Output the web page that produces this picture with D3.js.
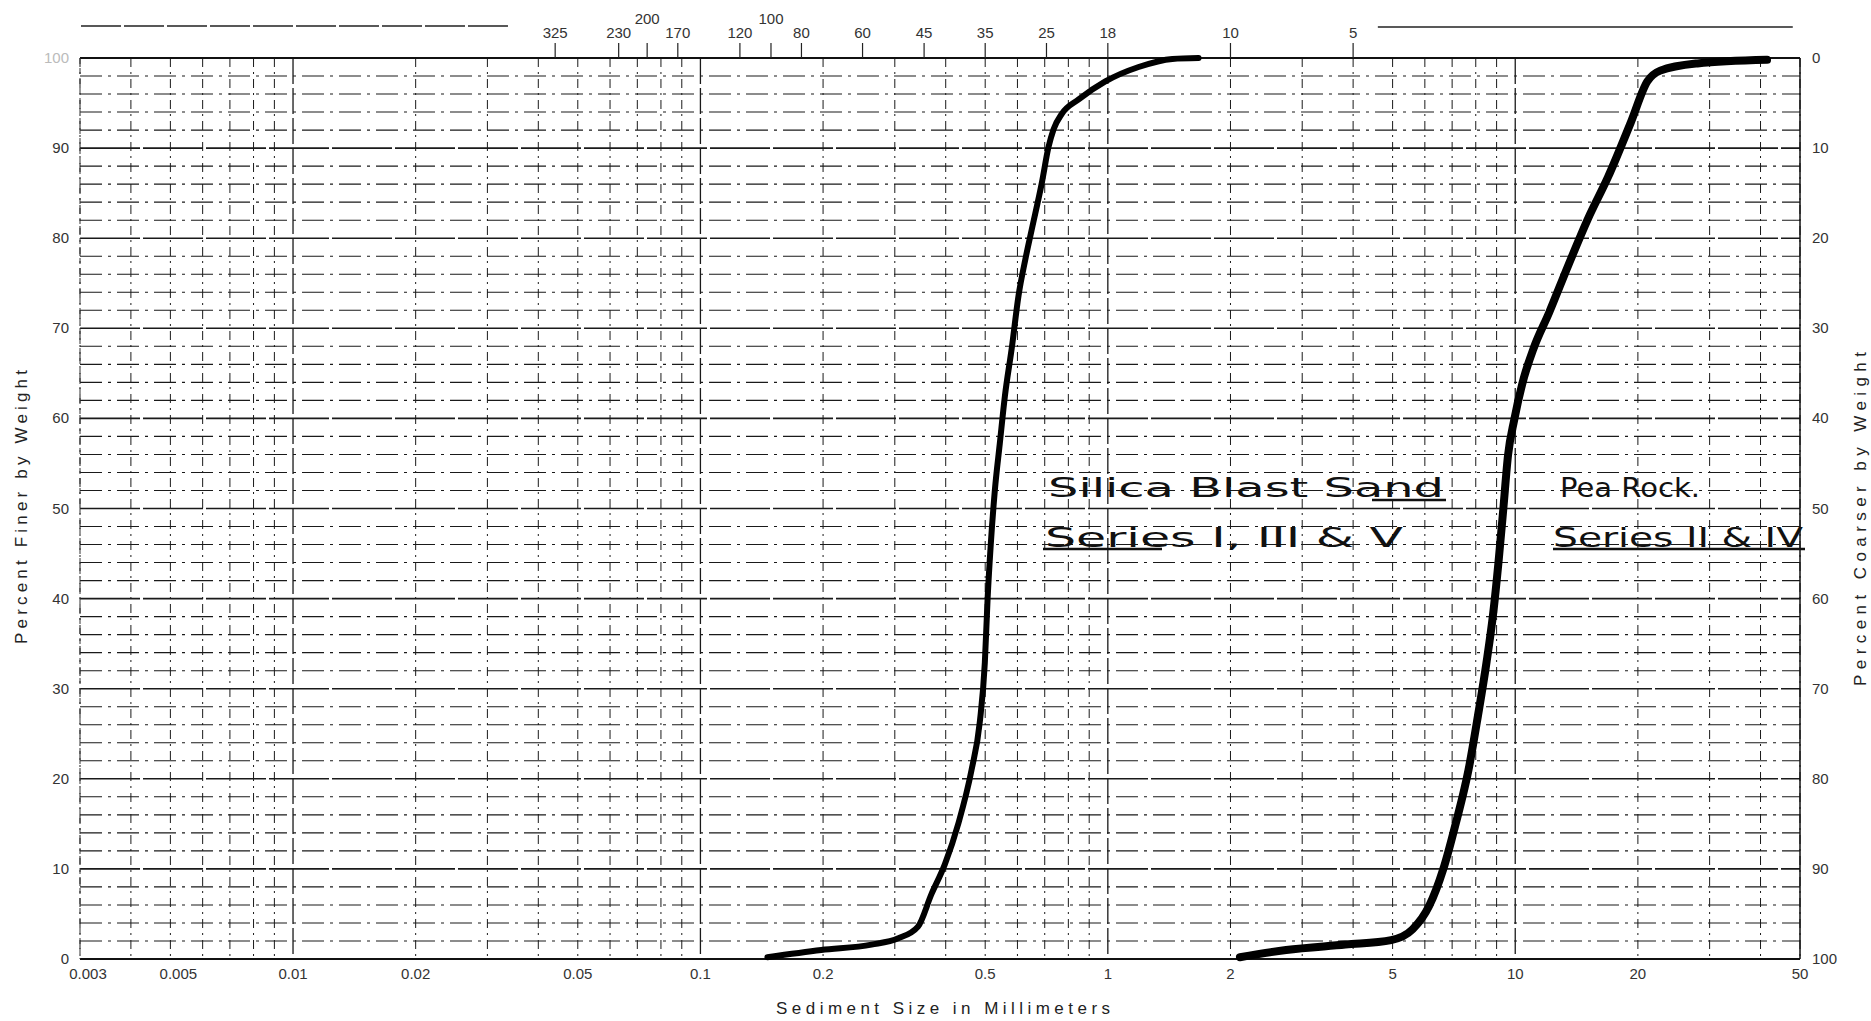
<!DOCTYPE html>
<html>
<head>
<meta charset="utf-8">
<script src="https://cdn.jsdelivr.net/npm/d3@7"></script>
<style>
  body { margin: 0; background: #fff; }
  svg { display: block; font-family: 'Liberation Sans', Arial, sans-serif; }
  .tick-label { font-size: 15px; fill: #333; }
  .axis-label { font-size: 17px; fill: #222; }
  .note { font-family: 'DejaVu Sans', sans-serif; font-size: 27px; fill: #111; }
</style>
</head>
<body>
<div class="chart"></div>
<script>
// Grain size curves (size in mm, percent finer)
const silicaSize = [0.146, 0.198, 0.263, 0.306, 0.342, 0.369, 0.398, 0.430, 0.463, 0.485, 0.499, 0.507, 0.516, 0.528, 0.543, 0.559, 0.581, 0.604, 0.627, 0.650, 0.689, 0.715, 0.736, 0.771, 0.848, 0.986, 1.19, 1.44, 1.67];
const silicaPct = [0.2, 1.0, 1.6, 2.3, 3.6, 7.2, 10.5, 15.1, 21, 26.3, 32.9, 40.1, 46, 52, 57.2, 62.5, 67.8, 73.7, 77.6, 80.9, 86.2, 90.1, 92.1, 93.8, 95.4, 97.4, 99.0, 99.9, 100];

const peaSize = [2.11, 2.74, 3.83, 4.96, 5.6, 6.15, 6.65, 7.15, 7.68, 8.1, 8.5, 8.82, 9.1, 9.35, 9.6, 9.95, 10.4, 11.1, 12.1, 13.5, 15.1, 16.9, 19.2, 21.1, 22.7, 28, 41.5];
const peaPct = [0.2, 1.0, 1.6, 2.1, 3.3, 5.9, 9.9, 15.1, 21, 27, 32.9, 38.2, 44.1, 50, 55.9, 59.9, 63.8, 67.8, 71.7, 77, 82.2, 86.8, 92.8, 97.4, 98.6, 99.4, 99.8];

// Axis ticks
const sizeTicks = [0.003, 0.005, 0.01, 0.02, 0.05, 0.1, 0.2, 0.5, 1, 2, 5, 10, 20, 50];
const sizeTickLabels = ['0.003', '0.005', '0.01', '0.02', '0.05', '0.1', '0.2', '0.5', '1', '2', '5', '10', '20', '50'];
const pctTicks = [0, 10, 20, 30, 40, 50, 60, 70, 80, 90, 100];

// Sieve numbers on the top scale and their openings (mm)
const sieveNumbers = ['325', '230', '200', '170', '120', '100', '80', '60', '45', '35', '25', '18', '10', '5'];
const sieveOpenings = [0.044, 0.063, 0.074, 0.088, 0.125, 0.149, 0.177, 0.25, 0.354, 0.5, 0.707, 1.0, 2.0, 4.0];
const sieveRaised = ['200', '100'];

const W = 1871, H = 1021;
const margin = { top: 58, right: 71, bottom: 62, left: 80 };
const width = W - margin.left - margin.right;
const height = H - margin.top - margin.bottom;

const svg = d3.select('.chart')
  .append('svg')
  .attr('width', W)
  .attr('height', H);

svg.append('rect').attr('width', W).attr('height', H).attr('fill', '#fff');

const g = svg.append('g')
  .attr('transform', `translate(${margin.left},${margin.top})`);

// Scales
const x = d3.scaleLog().domain([0.003, 50]).range([0, width]);
const y = d3.scaleLinear().domain([0, 100]).range([height, 0]);

// Log grid (1..9 per decade)
const vTicks = x.ticks();
const isDecade = v => Math.abs(Math.log10(v) - Math.round(Math.log10(v))) < 1e-6;

g.append('g').attr('class', 'vgrid')
  .selectAll('line')
  .data(vTicks)
  .enter()
  .append('line')
  .attr('x1', d => x(d)).attr('x2', d => x(d))
  .attr('y1', 0).attr('y2', height)
  .attr('stroke', '#1a1a1a')
  .attr('stroke-width', d => isDecade(d) ? 1.3 : 1)
  .attr('stroke-dasharray', d => isDecade(d) ? '26,4' : '9,5,2,5');

// Horizontal grid every 2 percent
const hTicks = y.ticks(50);
g.append('g').attr('class', 'hgrid')
  .selectAll('line')
  .data(hTicks)
  .enter()
  .append('line')
  .attr('x1', 0).attr('x2', width)
  .attr('y1', d => y(d)).attr('y2', d => y(d))
  .attr('stroke', '#1a1a1a')
  .attr('stroke-width', d => d % 10 === 0 ? 1.6 : 1.1)
  .attr('stroke-dasharray', d => d % 10 === 0 ? '60,3' : '22,6,3,6');

// Frame
g.append('line').attr('x1', 0).attr('x2', width).attr('y1', 0).attr('y2', 0)
  .attr('stroke', '#111').attr('stroke-width', 2);
g.append('line').attr('x1', 0).attr('x2', width).attr('y1', height).attr('y2', height)
  .attr('stroke', '#111').attr('stroke-width', 2);
g.append('line').attr('x1', width).attr('x2', width).attr('y1', 0).attr('y2', height)
  .attr('stroke', '#111').attr('stroke-width', 1.5);
g.append('line').attr('x1', 0).attr('x2', 0).attr('y1', 0).attr('y2', height)
  .attr('stroke', '#333').attr('stroke-width', 1).attr('stroke-dasharray', '6,4');

// Bottom size labels
g.append('g')
  .selectAll('text')
  .data(sizeTicks)
  .enter()
  .append('text')
  .attr('class', 'tick-label')
  .attr('x', (d, i) => x(d) + (i < 2 ? 8 : 0))
  .attr('y', height + 20)
  .attr('text-anchor', 'middle')
  .text((d, i) => sizeTickLabels[i]);

// Left percent finer labels
g.append('g')
  .selectAll('text')
  .data(pctTicks)
  .enter()
  .append('text')
  .attr('class', 'tick-label')
  .attr('x', -11)
  .attr('y', d => y(d) + 5)
  .attr('text-anchor', 'end')
  .style('fill', d => d === 100 ? '#bbb' : '#333')
  .text(d => d);

// Right percent coarser labels
g.append('g')
  .selectAll('text')
  .data(pctTicks)
  .enter()
  .append('text')
  .attr('class', 'tick-label')
  .attr('x', width + 12)
  .attr('y', d => y(100 - d) + 5)
  .attr('text-anchor', 'start')
  .text(d => d);

// Top sieve scale
const sieve = sieveNumbers.map((n, i) => ({ n: n, size: sieveOpenings[i] }));
g.append('g')
  .selectAll('line')
  .data(sieve)
  .enter()
  .append('line')
  .attr('x1', d => x(d.size)).attr('x2', d => x(d.size))
  .attr('y1', 0).attr('y2', -15)
  .attr('stroke', '#222').attr('stroke-width', 1.2);

g.append('g')
  .selectAll('text')
  .data(sieve)
  .enter()
  .append('text')
  .attr('class', 'tick-label')
  .attr('x', d => x(d.size))
  .attr('y', d => sieveRaised.includes(d.n) ? -34 : -20)
  .attr('text-anchor', 'middle')
  .text(d => d.n);

// Rules flanking the sieve scale
g.append('line')
  .attr('x1', x(0.003) + 1).attr('x2', x(0.0337))
  .attr('y1', -32).attr('y2', -32)
  .attr('stroke', '#222').attr('stroke-width', 1.5).attr('stroke-dasharray', '40,3');
g.append('line')
  .attr('x1', x(4.6)).attr('x2', x(48))
  .attr('y1', -31).attr('y2', -31)
  .attr('stroke', '#222').attr('stroke-width', 1.5);

// Axis titles
svg.append('text')
  .attr('class', 'axis-label')
  .attr('x', 943)
  .attr('y', 1014)
  .attr('text-anchor', 'middle')
  .attr('textLength', 334)
  .attr('lengthAdjust', 'spacing')
  .text('Sediment   Size   in   Millimeters');

svg.append('text')
  .attr('class', 'axis-label')
  .attr('transform', 'translate(27,507) rotate(-90)')
  .attr('text-anchor', 'middle')
  .attr('textLength', 274)
  .attr('lengthAdjust', 'spacing')
  .text('Percent   Finer   by   Weight');

svg.append('text')
  .attr('class', 'axis-label')
  .attr('transform', 'translate(1866,519) rotate(-90)')
  .attr('text-anchor', 'middle')
  .attr('textLength', 334)
  .attr('lengthAdjust', 'spacing')
  .text('Percent   Coarser   by   Weight');

// Curves
const line = d3.line()
  .x(d => x(d.size))
  .y(d => y(d.pct))
  .curve(d3.curveMonotoneX);

const silica = silicaSize.map((s, i) => ({ size: s, pct: silicaPct[i] }));
const pea = peaSize.map((s, i) => ({ size: s, pct: peaPct[i] }));

g.append('path')
  .datum(silica)
  .attr('d', line)
  .attr('fill', 'none')
  .attr('stroke', '#000')
  .attr('stroke-width', 6)
  .attr('stroke-linecap', 'round');

g.append('path')
  .datum(pea)
  .attr('d', line)
  .attr('fill', 'none')
  .attr('stroke', '#000')
  .attr('stroke-width', 8)
  .attr('stroke-linecap', 'round');

// Hand-lettered notes
const notes = svg.append('g').attr('class', 'notes');
notes.append('text').attr('class', 'note')
  .attr('x', 1048).attr('y', 497)
  .attr('textLength', 396).attr('lengthAdjust', 'spacingAndGlyphs')
  .text('Silica Blast Sand');
notes.append('line')
  .attr('x1', 1372).attr('x2', 1446).attr('y1', 500).attr('y2', 500)
  .attr('stroke', '#111').attr('stroke-width', 2.5);

notes.append('text').attr('class', 'note')
  .attr('x', 1045).attr('y', 547)
  .attr('textLength', 358).attr('lengthAdjust', 'spacingAndGlyphs')
  .text('Series I, III & V');
notes.append('line')
  .attr('x1', 1043).attr('x2', 1162).attr('y1', 549).attr('y2', 549)
  .attr('stroke', '#111').attr('stroke-width', 2.5);

notes.append('text').attr('class', 'note')
  .attr('x', 1560).attr('y', 497)
  .attr('textLength', 140).attr('lengthAdjust', 'spacingAndGlyphs')
  .text('Pea Rock.');

notes.append('text').attr('class', 'note')
  .attr('x', 1553).attr('y', 547)
  .attr('textLength', 250).attr('lengthAdjust', 'spacingAndGlyphs')
  .text('Series II & IV');
notes.append('line')
  .attr('x1', 1553).attr('x2', 1805).attr('y1', 549).attr('y2', 549)
  .attr('stroke', '#111').attr('stroke-width', 2.5);
</script>
</body>
</html>
